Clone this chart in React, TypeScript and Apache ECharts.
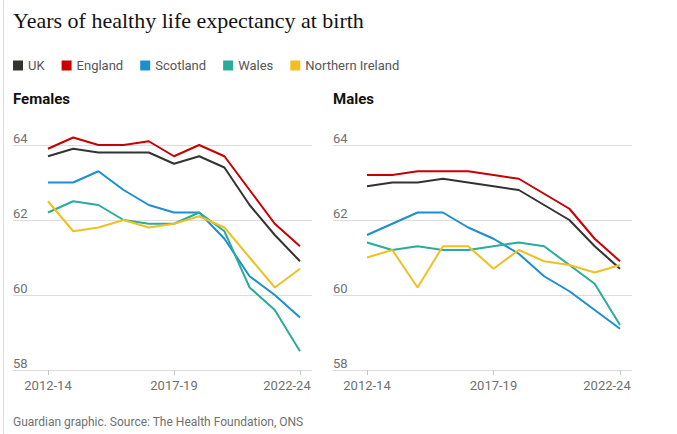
import React, { useEffect, useRef } from "react";
import * as echarts from "echarts";

const categories = ["2012-14", "2013-15", "2014-16", "2015-17", "2016-18", "2017-19", "2018-20", "2019-21", "2020-22", "2021-23", "2022-24"];
const regions = ["UK", "England", "Scotland", "Wales", "Northern Ireland"];

const femalesUK = [63.7, 63.9, 63.8, 63.8, 63.8, 63.5, 63.7, 63.4, 62.4, 61.6, 60.9];
const femalesEngland = [63.9, 64.2, 64.0, 64.0, 64.1, 63.7, 64.0, 63.7, 62.8, 61.9, 61.3];
const femalesScotland = [63.0, 63.0, 63.3, 62.8, 62.4, 62.2, 62.2, 61.5, 60.5, 60.0, 59.4];
const femalesWales = [62.2, 62.5, 62.4, 62.0, 61.9, 61.9, 62.2, 61.7, 60.2, 59.6, 58.5];
const femalesNI = [62.5, 61.7, 61.8, 62.0, 61.8, 61.9, 62.1, 61.8, 61.0, 60.2, 60.7];

const malesUK = [62.9, 63.0, 63.0, 63.1, 63.0, 62.9, 62.8, 62.4, 62.0, 61.3, 60.7];
const malesEngland = [63.2, 63.2, 63.3, 63.3, 63.3, 63.2, 63.1, 62.7, 62.3, 61.5, 60.9];
const malesScotland = [61.6, 61.9, 62.2, 62.2, 61.8, 61.5, 61.1, 60.5, 60.1, 59.6, 59.1];
const malesWales = [61.4, 61.2, 61.3, 61.2, 61.2, 61.3, 61.4, 61.3, 60.8, 60.3, 59.2];
const malesNI = [61.0, 61.2, 60.2, 61.3, 61.3, 60.7, 61.2, 60.9, 60.8, 60.6, 60.8];

const yMin = 58;
const yMax = 64;
const yStep = 2;

const females = [femalesUK, femalesEngland, femalesScotland, femalesWales, femalesNI];
const males = [malesUK, malesEngland, malesScotland, malesWales, malesNI];

const colors = ["#333333", "#c70000", "#1b8fd2", "#2aab9c", "#f0c022"];
const SANS = "Roboto, 'Noto Sans', sans-serif";
const GREY = "#707070";

export default function App() {
  const ref = useRef<HTMLDivElement>(null);

  useEffect(() => {
    document.body.style.margin = "0";
    if (!ref.current) return;
    const chart = echarts.init(ref.current, undefined, { renderer: "svg" });

    const bgY = (gridIndex: number) => ({
      gridIndex,
      type: "value",
      min: yMin,
      max: yMax,
      interval: yStep,
      axisLine: { show: false },
      axisTick: { show: false },
      splitLine: { show: true, lineStyle: { color: "#dcdcdc", width: 1 } },
      axisLabel: {
        inside: true,
        margin: 0,
        verticalAlign: "bottom",
        color: GREY,
        fontSize: 13,
        fontFamily: SANS,
      },
    });
    const dataY = (gridIndex: number) => ({
      gridIndex,
      type: "value",
      min: yMin,
      max: yMax,
      show: false,
    });
    const bgX = (gridIndex: number) => ({
      gridIndex,
      type: "category",
      data: categories,
      show: false,
    });
    const dataX = (gridIndex: number) => ({
      gridIndex,
      type: "category",
      data: categories,
      boundaryGap: false,
      axisLine: { show: false },
      axisTick: { show: true, interval: 4, length: 5, lineStyle: { color: "#c8c8c8" } },
      splitLine: { show: false },
      axisLabel: {
        interval: 4,
        margin: 9,
        color: GREY,
        fontSize: 13,
        fontFamily: SANS,
        formatter: (v: string, i: number) => (i === categories.length - 1 ? `{r|${v}}` : v),
        rich: {
          r: { color: GREY, fontSize: 13, fontFamily: SANS, padding: [0, 26, 0, 0] },
        },
      },
    });

    const series: any[] = [];
    const addSeries = (values: number[][], axisIndex: number) => {
      regions.forEach((name, k) => {
        series.push({
          name,
          type: "line",
          xAxisIndex: axisIndex,
          yAxisIndex: axisIndex,
          data: values[k],
          symbol: "none",
          clip: false,
          color: colors[k],
          lineStyle: { width: 2, color: colors[k] },
          z: 2 + k,
        });
      });
    };
    addSeries(females, 1);
    addSeries(males, 3);

    chart.setOption({
      animation: false,
      backgroundColor: "#ffffff",
      title: [
        {
          text: "Years of healthy life expectancy at birth",
          left: 13,
          top: 9,
          padding: 0,
          textStyle: { fontFamily: "'Liberation Serif', serif", fontSize: 22, fontWeight: "normal", color: "#121212" },
        },
        {
          text: "Females",
          left: 13,
          top: 91,
          padding: 0,
          textStyle: { fontFamily: SANS, fontSize: 15, fontWeight: "bold", color: "#121212" },
        },
        {
          text: "Males",
          left: 333,
          top: 91,
          padding: 0,
          textStyle: { fontFamily: SANS, fontSize: 15, fontWeight: "bold", color: "#121212" },
        },
        {
          text: "Guardian graphic. Source: The Health Foundation, ONS",
          left: 13,
          top: 416,
          padding: 0,
          textStyle: { fontFamily: SANS, fontSize: 12, fontWeight: "normal", color: GREY },
        },
      ],
      legend: {
        data: regions,
        left: 13,
        top: 59,
        padding: 0,
        itemWidth: 10,
        itemHeight: 10,
        itemGap: 17,
        icon: "rect",
        selectedMode: false,
        textStyle: { color: "#555555", fontSize: 13, fontFamily: SANS },
      },
      grid: [
        { left: 13, top: 145, width: 299, height: 225 },
        { left: 48, top: 145, width: 252, height: 225 },
        { left: 333, top: 145, width: 299, height: 225 },
        { left: 367, top: 145, width: 253, height: 225 },
      ],
      xAxis: [bgX(0), dataX(1), bgX(2), dataX(3)],
      yAxis: [bgY(0), dataY(1), bgY(2), dataY(3)],
      series,
      graphic: [
        {
          type: "line",
          shape: { x1: 3.5, y1: 0, x2: 3.5, y2: 434 },
          style: { stroke: "#dcdcdc", lineWidth: 1 },
          silent: true,
        },
      ],
    });

    return () => chart.dispose();
  }, []);

  return <div ref={ref} style={{ width: 677, height: 434 }} />;
}
